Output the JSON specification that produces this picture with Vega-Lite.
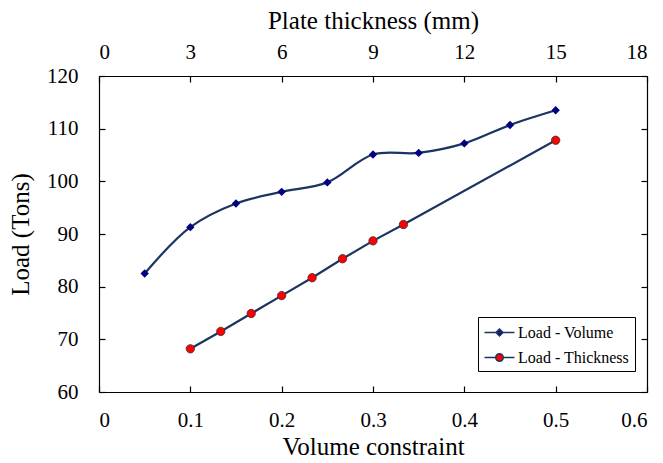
{
  "$schema": "https://vega.github.io/schema/vega-lite/v6.json",
  "width": 548,
  "height": 316,
  "autosize": "none",
  "padding": {"left": 99, "top": 76, "right": 16, "bottom": 71},
  "background": "white",
  "config": {
    "view": {"stroke": null},
    "font": "Liberation Serif",
    "axis": {
      "labelFont": "Liberation Serif",
      "labelFontSize": 21,
      "labelColor": "black",
      "titleFont": "Liberation Serif",
      "titleFontSize": 25,
      "titleFontWeight": "normal",
      "titleColor": "black",
      "domainColor": "black",
      "domainWidth": 1.2,
      "tickColor": "black",
      "tickWidth": 1.2,
      "tickSize": -6,
      "grid": false
    },
    "legend": {
      "labelFont": "Liberation Serif",
      "labelFontSize": 16,
      "labelColor": "black"
    }
  },
  "datasets": {
    "vol": [
      {"series": "Load - Volume", "volume": 0.05, "load": 82.5},
      {"series": "Load - Volume", "volume": 0.1, "load": 91.3},
      {"series": "Load - Volume", "volume": 0.15, "load": 95.8},
      {"series": "Load - Volume", "volume": 0.2, "load": 98.0},
      {"series": "Load - Volume", "volume": 0.25, "load": 99.8},
      {"series": "Load - Volume", "volume": 0.3, "load": 105.1},
      {"series": "Load - Volume", "volume": 0.35, "load": 105.4},
      {"series": "Load - Volume", "volume": 0.4, "load": 107.2},
      {"series": "Load - Volume", "volume": 0.45, "load": 110.7},
      {"series": "Load - Volume", "volume": 0.5, "load": 113.5}
    ],
    "thick": [
      {"series": "Load - Thickness", "thickness": 3, "load": 68.2},
      {"series": "Load - Thickness", "thickness": 4, "load": 71.5},
      {"series": "Load - Thickness", "thickness": 5, "load": 74.9},
      {"series": "Load - Thickness", "thickness": 6, "load": 78.3},
      {"series": "Load - Thickness", "thickness": 7, "load": 81.7},
      {"series": "Load - Thickness", "thickness": 8, "load": 85.3},
      {"series": "Load - Thickness", "thickness": 9, "load": 88.7},
      {"series": "Load - Thickness", "thickness": 10, "load": 91.8},
      {"series": "Load - Thickness", "thickness": 15, "load": 107.8}
    ]
  },
  "layer": [
    {
      "data": {"name": "vol"},
      "encoding": {
        "x": {
          "field": "volume", "type": "quantitative",
          "scale": {"domain": [0, 0.6], "nice": false, "zero": false},
          "axis": {"orient": "bottom", "title": "Volume constraint", "values": [0, 0.1, 0.2, 0.3, 0.4, 0.5, 0.6], "format": "~g", "labelPadding": 23, "titlePadding": 4}
        },
        "y": {
          "field": "load", "type": "quantitative",
          "scale": {"domain": [60, 120], "nice": false, "zero": false},
          "axis": {"orient": "left", "title": "Load (Tons)", "values": [60, 70, 80, 90, 100, 110, 120], "labelPadding": 27, "titlePadding": 13}
        }
      },
      "layer": [
        {"mark": {"type": "line", "interpolate": "catmull-rom", "color": "#1c3461", "strokeWidth": 2.2}},
        {"mark": {"type": "point", "shape": "diamond", "filled": true, "size": 70, "opacity": 1, "color": "#000080"}},
        {
          "transform": [{"filter": "false"}],
          "mark": {"type": "point", "filled": true, "size": 350, "opacity": 1, "stroke": "#1c3461", "strokeWidth": 1.5},
          "encoding": {
            "color": {
              "field": "series", "type": "nominal",
              "scale": {"domain": ["Load - Volume", "Load - Thickness"], "range": ["#000080", "#FF0000"]},
              "legend": {
                "title": null,
                "orient": "none",
                "legendX": 379,
                "legendY": 241,
                "strokeColor": "black",
                "fillColor": "white",
                "padding": 5,
                "rowPadding": 6,
                "symbolSize": 350,
                "symbolOffset": 6,
                "labelOffset": 8,
                "labelExpr": "datum.label + '\u2002\u2002\u2002'",
                "symbolStrokeColor": "#1c3461",
                "symbolStrokeWidth": 1.5
              }
            },
            "shape": {
              "field": "series", "type": "nominal",
              "scale": {"domain": ["Load - Volume", "Load - Thickness"], "range": ["M-1.6,0H1.6M0,-0.38L0.38,0L0,0.38L-0.38,0Z", "M-1.6,0H-0.4M0.4,0H1.6M0.4,0A0.4,0.4,0,1,1,-0.4,0A0.4,0.4,0,1,1,0.4,0Z"]},
              "legend": {
                "title": null,
                "orient": "none",
                "legendX": 379,
                "legendY": 241,
                "strokeColor": "black",
                "fillColor": "white",
                "padding": 5,
                "rowPadding": 6,
                "symbolSize": 350,
                "symbolOffset": 6,
                "labelOffset": 8,
                "labelExpr": "datum.label + '\u2002\u2002\u2002'",
                "symbolStrokeColor": "#1c3461",
                "symbolStrokeWidth": 1.5
              }
            }
          }
        }
      ]
    },
    {
      "data": {"name": "thick"},
      "encoding": {
        "x": {
          "field": "thickness", "type": "quantitative",
          "scale": {"domain": [0, 18], "nice": false, "zero": false},
          "axis": {"orient": "top", "title": "Plate thickness (mm)", "values": [0, 3, 6, 9, 12, 15, 18], "labelPadding": 20, "titlePadding": 8}
        },
        "y": {
          "field": "load", "type": "quantitative",
          "scale": {"domain": [60, 120], "nice": false, "zero": false},
          "axis": {"orient": "right", "title": null, "labels": false, "values": [60, 70, 80, 90, 100, 110, 120]}
        }
      },
      "layer": [
        {"mark": {"type": "line", "color": "#1c3461", "strokeWidth": 2.2}},
        {"mark": {"type": "point", "shape": "circle", "filled": true, "size": 70, "opacity": 1, "fill": "#FF0000", "stroke": "#333333", "strokeWidth": 0.8}}
      ]
    }
  ],
  "resolve": {"scale": {"x": "independent", "y": "independent"}}
}
